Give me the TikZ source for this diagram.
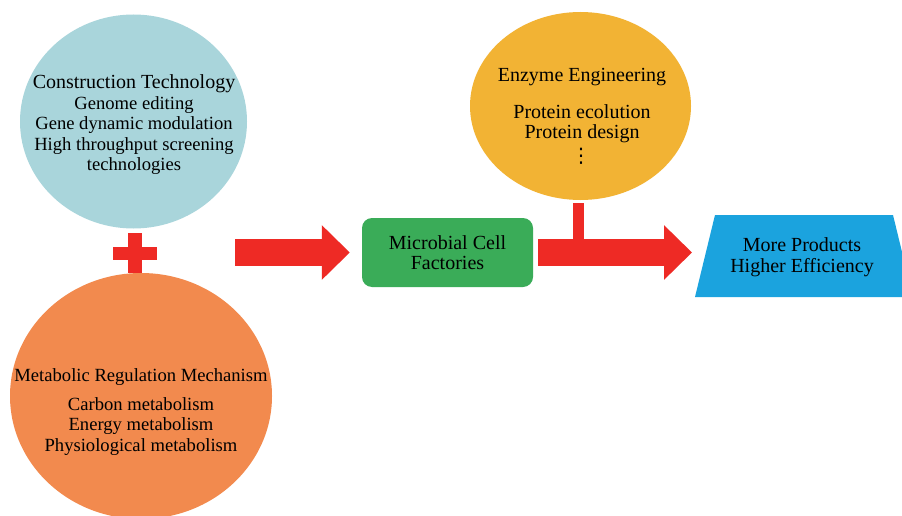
\documentclass[tikz,border=0pt]{standalone}
\usepackage{fontspec}
\setmainfont{Liberation Serif}
\newfontfamily\symf{DejaVu Sans}
\usetikzlibrary{shapes.geometric,arrows.meta}
\definecolor{cblue}{HTML}{A9D5DB}
\definecolor{corange}{HTML}{F28A4E}
\definecolor{cyellow}{HTML}{F2B334}
\definecolor{cgreen}{HTML}{3AAC58}
\definecolor{cbox}{HTML}{1BA3DE}
\definecolor{cred}{HTML}{EE2A25}
\newcommand{\bodyf}{\fontsize{18.6}{20.5}\selectfont}
\newcommand{\titf}{\fontsize{20}{20.5}\selectfont}
\begin{document}
\begin{tikzpicture}[x=1pt,y=-1pt,
  bubble/.style={ellipse, inner sep=0pt, draw=none},
  label/.style={align=center, text=black, inner sep=0pt},
  fat/.style={draw=cred, line width=27pt, -{Triangle[length=28pt,width=53pt]}},
  stem/.style={draw=cred, line width=11pt}]
\useasboundingbox (0,0) rectangle (902,516);
\clip (0,0) rectangle (902,516);
\fill[white] (0,0) rectangle (902,516);

% bubbles
\node[bubble, fill=cblue, minimum width=227pt, minimum height=214pt] (ct) at (133.5,121.5) {};
\node[bubble, fill=corange, minimum width=262pt, minimum height=246pt] (mr) at (141,396) {};
\node[bubble, fill=cyellow, minimum width=221pt, minimum height=188pt] (enz) at (580.5,106) {};

% texts in bubbles
\node[label, font=\bodyf] (ctt) at (134,125) {{\titf Construction Technology}\\Genome editing\\Gene dynamic modulation\\High throughput screening\\technologies};
\node[label, font=\bodyf] (mrt) at (141,412) {Metabolic Regulation Mechanism\\[8pt]Carbon metabolism\\Energy metabolism\\Physiological metabolism};
\node[label, font=\titf] (enzt) at (582,106) {Enzyme Engineering\\[16pt]Protein ecolution\\Protein design};
\node[label, font=\symf\fontsize{20}{20}\selectfont] (dots) at (581,156) {⋮};

% plus sign
\fill[cred] (113,247) rectangle (157,260);
\fill[cred] (128,233) rectangle (142,273);

% microbial cell factories
\node[fill=cgreen, rounded corners=10pt, minimum width=171pt, minimum height=69pt, label, font=\titf] (mcf) at (447.5,252.5) {Microbial Cell\\Factories};

% products trapezoid
\fill[cbox] (715,215) -- (893,215) -- (913,297) -- (695,297) -- cycle;
\node[label, font=\titf] (prod) at (802,257) {More Products\\Higher Efficiency};

% arrows
\coordinate (lstart) at (235,252.5);
\coordinate (tip) at (692,252.5);
\coordinate (tj) at (578.5,245);
\draw[fat] (lstart) -- ([xshift=-12pt]mcf.west);
\draw[stem] ([xshift=-2pt,yshift=-3pt]enz.south) -- (tj);
\draw[fat] ([xshift=5pt]mcf.east) -- (tip);
\end{tikzpicture}
\end{document}
